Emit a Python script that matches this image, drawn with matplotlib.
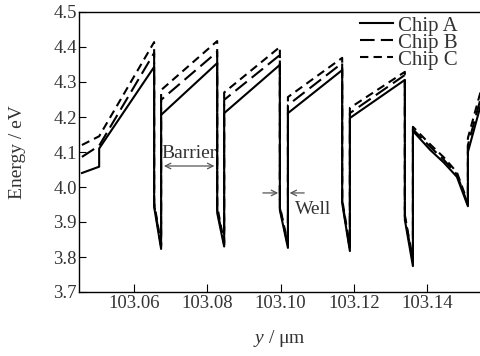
import matplotlib
matplotlib.use("Agg")
from matplotlib import pyplot as plt

plt.rcParams['font.family'] = 'Liberation Serif'
plt.rcParams['mathtext.fontset'] = 'custom'
plt.rcParams['mathtext.rm'] = 'Liberation Serif'
plt.rcParams['mathtext.it'] = 'Liberation Serif:italic'

# position along y (um) and energy (eV) for each chip
x_a = [103.0458, 103.0505, 103.0505, 103.0655, 103.0655, 103.0674, 103.0674, 103.0827, 103.0827,
       103.0846, 103.0846, 103.0998, 103.0998, 103.1020, 103.1020, 103.1168, 103.1168, 103.1189,
       103.1189, 103.1339, 103.1339, 103.1361, 103.1361, 103.1408, 103.1445, 103.1481, 103.1511,
       103.1511, 103.1545]
e_a = [4.040, 4.058, 4.110, 4.343, 3.943, 3.823, 4.206, 4.354, 3.926, 3.830, 4.211, 4.349, 3.934,
       3.826, 4.211, 4.334, 3.954, 3.817, 4.197, 4.306, 3.906, 3.774, 4.160, 4.106, 4.070, 4.029,
       3.945, 4.100, 4.230]

x_bc = [103.0458, 103.0505, 103.0655, 103.0655, 103.0674, 103.0674, 103.0827, 103.0827, 103.0846,
        103.0846, 103.0998, 103.0998, 103.1020, 103.1020, 103.1168, 103.1168, 103.1189, 103.1189,
        103.1339, 103.1339, 103.1361, 103.1361, 103.1408, 103.1445, 103.1481, 103.1511, 103.1511,
        103.1545]
e_b = [4.086, 4.118, 4.383, 3.950, 3.830, 4.249, 4.386, 3.935, 3.835, 4.249, 4.377, 3.940, 3.832,
       4.234, 4.354, 3.960, 3.822, 4.211, 4.320, 3.915, 3.785, 4.165, 4.115, 4.078, 4.036, 3.950,
       4.120, 4.250]
e_c = [4.120, 4.145, 4.414, 3.955, 3.835, 4.277, 4.417, 3.945, 3.840, 4.270, 4.400, 3.945, 3.836,
       4.257, 4.369, 3.965, 3.828, 4.226, 4.329, 3.920, 3.790, 4.172, 4.122, 4.085, 4.042, 3.955,
       4.140, 4.270]

labels = ['Chip A', 'Chip B', 'Chip C']
xticks = [103.06, 103.08, 103.10, 103.12, 103.14]
yticks = [3.7, 3.8, 3.9, 4.0, 4.1, 4.2, 4.3, 4.4, 4.5]

txt = '#333333'
arr = '#555555'

fig = plt.figure(figsize=(4.8, 3.56), dpi=100)
ax = fig.add_axes([79/480, 1 - 292/356, 1 - 79/480, 280/356])

ax.plot(x_a, e_a, color='black', lw=1.5, label=labels[0])
ax.plot(x_bc, e_b, color='black', lw=1.5, dashes=(7, 3), label=labels[1])
ax.plot(x_bc, e_c, color='black', lw=1.5, dashes=(4, 2.5), label=labels[2])

ax.set_xlim(103.045, 103.1544)
ax.set_ylim(3.7, 4.5)
ax.set_xticks(xticks)
ax.set_xticklabels(['%.2f' % t for t in xticks])
ax.set_yticks(yticks)
ax.set_yticklabels(['%.1f' % t for t in yticks])
ax.tick_params(direction='in', length=5.5, width=0.8, labelsize=13.5, labelcolor=txt, pad=2)
ax.tick_params(axis='y', length=5, pad=1.5)
ax.spines['right'].set_visible(False)
for s in ['left', 'top', 'bottom']:
    ax.spines[s].set_linewidth(1.0)

ax.set_xlabel(r'$\mathit{y}$ / μm', fontsize=14, color=txt, labelpad=12)
ax.set_ylabel('Energy / eV', fontsize=14, color=txt, labelpad=20)

# barrier / well annotations
ax.annotate('', xy=(103.0674, 4.06), xytext=(103.0827, 4.06),
            arrowprops=dict(arrowstyle='<->', color=arr, lw=0.9))
ax.text(103.0676, 4.097, 'Barrier', fontsize=14, color=txt, va='center', ha='left')
ax.annotate('', xy=(103.1001, 3.983), xytext=(103.0944, 3.983),
            arrowprops=dict(arrowstyle='->', color=arr, lw=0.9))
ax.annotate('', xy=(103.1017, 3.983), xytext=(103.1072, 3.983),
            arrowprops=dict(arrowstyle='->', color=arr, lw=0.9))
ax.text(103.1039, 3.937, 'Well', fontsize=14, color=txt, va='center', ha='left')

leg = ax.legend(loc='upper left', bbox_to_anchor=(360/480, 1 - 16/356), bbox_transform=fig.transFigure,
                frameon=False, fontsize=15, handlelength=1.6, handletextpad=0.2,
                labelspacing=-0.12, borderpad=0, borderaxespad=0)
for t in leg.get_texts():
    t.set_color(txt)

fig.savefig('out.png', dpi=100)
